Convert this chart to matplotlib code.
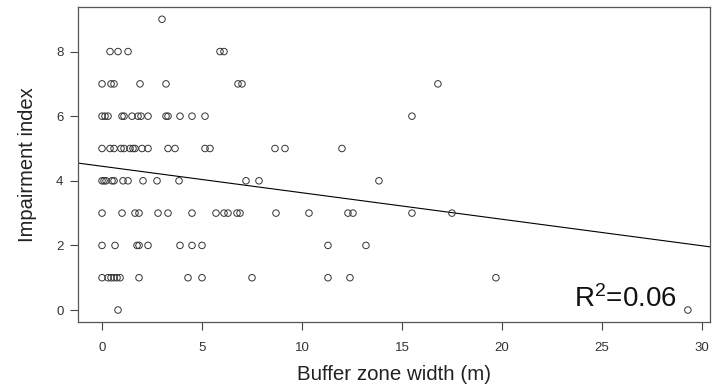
import matplotlib
matplotlib.use("Agg")
import matplotlib.pyplot as plt

plt.rcParams['font.family'] = ['Liberation Sans', 'DejaVu Sans']
plt.rcParams['mathtext.fontset'] = 'custom'
plt.rcParams['mathtext.rm'] = 'Liberation Sans'
plt.rcParams['mathtext.it'] = 'Liberation Sans'

# Buffer zone widths (m) observed at each impairment index level
level_0 = [0.8, 29.3]
level_1 = [0.0, 0.3, 0.45, 0.6, 0.75, 0.9, 1.85, 4.3, 5.0, 7.5, 11.3, 12.4, 19.7]
level_2 = [0.0, 0.65, 1.75, 1.85, 2.3, 3.9, 4.5, 5.0, 11.3, 13.2]
level_3 = [0.0, 1.0, 1.65, 1.85, 2.8, 3.3, 4.5, 5.7, 6.1, 6.3, 6.75, 6.9, 8.7,
           10.35, 12.3, 12.55, 15.5, 17.5]
level_4 = [0.0, 0.1, 0.2, 0.5, 0.6, 1.05, 1.3, 2.05, 2.75, 3.85, 7.2, 7.85, 13.85]
level_5 = [0.0, 0.4, 0.6, 0.95, 1.1, 1.4, 1.55, 1.65, 2.0, 2.3, 3.3, 3.65, 5.15,
           5.4, 8.65, 9.15, 12.0]
level_6 = [0.0, 0.15, 0.3, 1.0, 1.1, 1.5, 1.8, 1.95, 2.3, 3.2, 3.3, 3.9, 4.5,
           5.15, 15.5]
level_7 = [0.0, 0.45, 0.6, 1.9, 3.2, 6.8, 7.0, 16.8]
level_8 = [0.4, 0.8, 1.3, 5.9, 6.1]
level_9 = [3.0]

levels = [level_0, level_1, level_2, level_3, level_4,
          level_5, level_6, level_7, level_8, level_9]

# Fitted linear regression
intercept = 4.45
slope = -0.082
r_squared = 0.06

x_ticks = [0, 5, 10, 15, 20, 25, 30]
y_ticks = [0, 2, 4, 6, 8]

widths = [w for lv in levels for w in lv]
scores = [i for i, lv in enumerate(levels) for _ in lv]

fig = plt.figure(figsize=(7.12, 3.92), dpi=100)
ax = fig.add_axes([0.1096, 0.1786, 0.8874, 0.8036])

ax.scatter(widths, scores, s=22, facecolors='none', edgecolors='#333333',
           linewidths=0.7, zorder=3)

ax.set_xlim(-1.2, 30.4)
ax.set_ylim(-0.37, 9.38)
ax.axline((0, intercept), slope=slope, color='black', linewidth=0.8, zorder=2)

ax.set_xticks(x_ticks)
ax.set_yticks(y_ticks)
ax.tick_params(axis='both', direction='out', length=5.5, width=0.8,
               colors='#444444', labelcolor='#333333', labelsize=9.5)
ax.tick_params(axis='x', pad=9)
ax.tick_params(axis='y', pad=5)
for sp in ax.spines.values():
    sp.set_color('#555555')
    sp.set_linewidth(0.9)

ax.set_xlabel('Buffer zone width (m)', fontsize=14.8, color='#222222', labelpad=8)
ax.set_ylabel('Impairment index', fontsize=14.5, color='#222222', labelpad=14)

ax.text(28.75, 0.1, f'R$^2$={r_squared:.2f}', fontsize=20, color='#111111',
        ha='right', va='baseline')

fig.savefig('out.png', dpi=100)
